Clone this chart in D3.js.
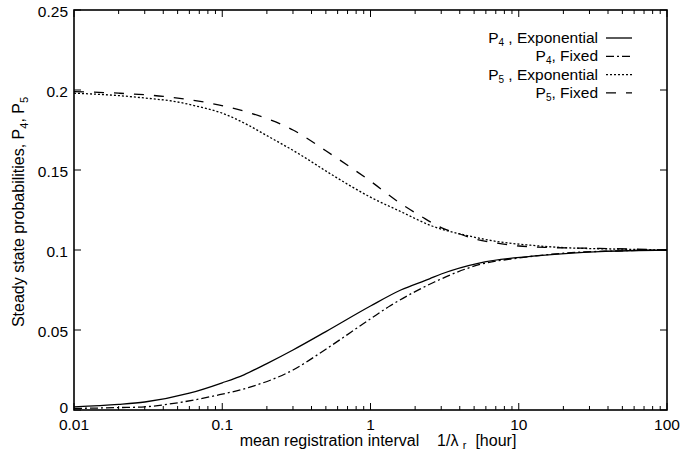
<!DOCTYPE html>
<html><head><meta charset="utf-8">
<script src="https://cdn.jsdelivr.net/npm/d3@7"></script>
<style>body{margin:0;background:#fff}svg{display:block}text{font-family:"Liberation Sans",Arial,sans-serif;fill:#000}</style>
</head><body>
<script>
const xTicks = [0.01, 0.1, 1, 10, 100];
const xTickLabels = ["0.01", "0.1", "1", "10", "100"];
const yTicks = [0, 0.05, 0.1, 0.15, 0.2, 0.25];
const yTickLabels = ["0", "0.05", "0.1", "0.15", "0.2", "0.25"];

const xP4Exp = [0.01,0.02,0.03,0.06,0.1,0.14,0.2,0.3,0.5,1,1.6,2.5,3,5.5,12,35,100];
const yP4Exp = [0.002,0.0035,0.005,0.0105,0.017,0.022,0.029,0.0375,0.049,0.065,0.075,0.082,0.085,0.092,0.096,0.099,0.1];
const xP4Fix = [0.01,0.02,0.03,0.05,0.09,0.15,0.3,0.5,1,1.35,2,2.7,5.5,10,20,50,100];
const yP4Fix = [0.001,0.0015,0.002,0.0045,0.009,0.014,0.025,0.038,0.057,0.065,0.074,0.08,0.091,0.095,0.098,0.0995,0.1];
const xP5Exp = [0.01,0.02,0.03,0.05,0.07,0.1,0.15,0.2,0.33,0.55,1,1.6,2.6,4.5,7.5,12,20,50,100];
const yP5Exp = [0.198,0.1965,0.195,0.1925,0.1895,0.1855,0.178,0.1715,0.16,0.147,0.133,0.124,0.115,0.109,0.105,0.103,0.1015,0.1005,0.1];
const xP5Fix = [0.01,0.02,0.04,0.08,0.15,0.3,0.5,1,1.6,2.2,3,4,5,7.5,10,17,35,100];
const yP5Fix = [0.199,0.198,0.196,0.192,0.186,0.175,0.162,0.143,0.129,0.121,0.114,0.11,0.107,0.104,0.1025,0.1015,0.101,0.1];

const seriesNames = ["4| , Exponential", "4|, Fixed", "5| , Exponential", "5|, Fixed"];

const W = 680, H = 461;
const m = {l:74, r:13, t:10, b:51};
const svg = d3.select("body").append("svg").attr("width", W).attr("height", H);
const x = d3.scaleLog().domain([0.01, 100]).range([m.l, W - m.r]);
const y = d3.scaleLinear().domain([0, 0.25]).range([H - m.b, m.t]);
const x0 = m.l, x1 = W - m.r, y0 = H - m.b, y1 = m.t;

// ticks (inward, mirrored)
const g = svg.append("g").attr("stroke", "#000").attr("stroke-width", 1);
const minor = [];
for (let e = -2; e < 2; e++) for (let k = 2; k <= 9; k++) minor.push(k * Math.pow(10, e));
minor.forEach(v => {
  g.append("line").attr("x1", x(v)).attr("x2", x(v)).attr("y1", y0).attr("y2", y0 - 4);
  g.append("line").attr("x1", x(v)).attr("x2", x(v)).attr("y1", y1).attr("y2", y1 + 4);
});
xTicks.forEach(v => {
  g.append("line").attr("x1", x(v)).attr("x2", x(v)).attr("y1", y0).attr("y2", y0 - 7);
  g.append("line").attr("x1", x(v)).attr("x2", x(v)).attr("y1", y1).attr("y2", y1 + 7);
});
yTicks.forEach(v => {
  g.append("line").attr("x1", x0).attr("x2", x0 + 7).attr("y1", y(v)).attr("y2", y(v));
  g.append("line").attr("x1", x1).attr("x2", x1 - 7).attr("y1", y(v)).attr("y2", y(v));
});

// tick labels
xTicks.forEach((v, i) => {
  svg.append("text").attr("x", x(v)).attr("y", y0 + 20).attr("text-anchor", "middle")
    .attr("font-size", 15.5).text(xTickLabels[i]);
});
yTicks.forEach((v, i) => {
  svg.append("text").attr("x", x0 - 6).attr("y", y(v) + (i === 0 ? 3 : 7)).attr("text-anchor", "end")
    .attr("font-size", 15.5).text(yTickLabels[i]);
});

// curves
const line = d3.line().x(d => x(d[0])).y(d => y(d[1])).curve(d3.curveMonotoneX);
const styles = [
  {dash: null},
  {dash: "8,3,2,3"},
  {dash: "2,2"},
  {dash: "10,10"}
];
const data = [
  d3.zip(xP4Exp, yP4Exp),
  d3.zip(xP4Fix, yP4Fix),
  d3.zip(xP5Exp, yP5Exp),
  d3.zip(xP5Fix, yP5Fix)
];
data.forEach((d, i) => {
  svg.append("path").attr("d", line(d)).attr("fill", "none").attr("stroke", "#000")
    .attr("stroke-width", 1.3).attr("stroke-dasharray", styles[i].dash);
});

// frame
svg.append("rect").attr("x", x0).attr("y", y1).attr("width", x1 - x0).attr("height", y0 - y1)
  .attr("fill", "none").attr("stroke", "#000").attr("stroke-width", 1.6);

// legend
seriesNames.forEach((n, i) => {
  const ly = 38 + i * 18.3;
  const [sub, rest] = n.split("|");
  const t = svg.append("text").attr("x", 598).attr("y", ly + 5).attr("text-anchor", "end").attr("font-size", 15.5);
  t.append("tspan").text("P");
  t.append("tspan").attr("font-size", 10).attr("dy", 3).text(sub);
  t.append("tspan").attr("dy", -3).text(rest);
  svg.append("line").attr("x1", 606).attr("x2", 632).attr("y1", ly).attr("y2", ly)
    .attr("stroke", "#000").attr("stroke-width", 1.3).attr("stroke-dasharray", styles[i].dash);
});

// axis titles
const xt = svg.append("text").attr("x", 378).attr("y", 446).attr("text-anchor", "middle").attr("font-size", 16)
  .attr("xml:space", "preserve").style("white-space", "pre");
xt.append("tspan").text("mean registration interval    1/λ ");
xt.append("tspan").attr("font-size", 11).attr("dy", 3).text("r");
xt.append("tspan").attr("dy", -3).text("  [hour]");

const yt = svg.append("text").attr("transform", "translate(24,212) rotate(-90)").attr("text-anchor", "middle").attr("font-size", 16);
yt.append("tspan").text("Steady state probabilities, P");
yt.append("tspan").attr("font-size", 11).attr("dy", 4).text("4");
yt.append("tspan").attr("dy", -4).text(", P");
yt.append("tspan").attr("font-size", 11).attr("dy", 4).text("5");
</script>
</body></html>
